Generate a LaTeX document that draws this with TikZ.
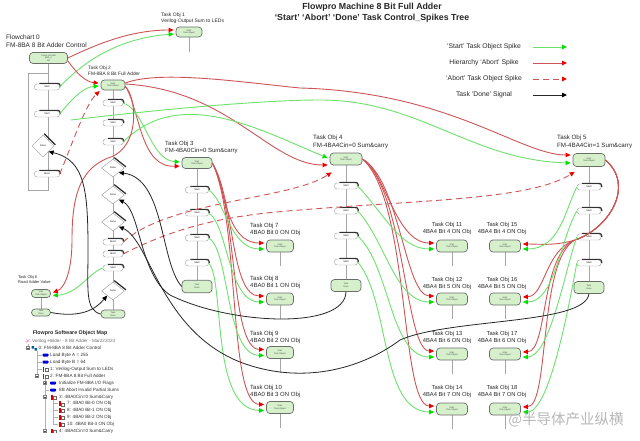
\documentclass[tikz,border=0pt]{standalone}
\usepackage{fontspec}
\setmainfont{Liberation Sans}
\newfontfamily\cjkfont{Noto Sans CJK SC}
\usetikzlibrary{arrows.meta,shapes.geometric}
\definecolor{nodegreen}{RGB}{214,240,204}
\definecolor{nodeedge}{RGB}{105,110,105}
\definecolor{lgreen}{RGB}{110,225,110}
\definecolor{agreen}{RGB}{0,225,0}
\definecolor{lred}{RGB}{205,85,85}
\definecolor{ared}{RGB}{240,0,0}
\definecolor{txt}{RGB}{40,40,40}
\pgfdeclarelayer{bg}
\pgfsetlayers{bg,main}
\tikzset{
 tobj/.style={draw=nodeedge, fill=nodegreen, rounded corners=3.5pt, line width=0.7pt, inner sep=0pt,
   minimum width=30pt, minimum height=11pt, align=center, font=\fontsize{2.2}{2.6}\selectfont, text=black!70},
 sbox/.style={draw=black!40, fill=white, rounded corners=2.5pt, line width=0.4pt, inner sep=0pt,
   minimum height=6pt, font=\fontsize{2.4}{2.8}\selectfont},
 dmd/.style={diamond, draw=black!40, fill=white, line width=0.4pt, inner sep=0pt, font=\fontsize{2.4}{2.8}\selectfont},
 lab/.style={anchor=north west, inner sep=0pt, align=left, text=txt, font=\fontsize{6}{7}\selectfont},
 labc/.style={anchor=north, inner sep=0pt, align=center, text=txt, font=\fontsize{5.8}{7}\selectfont},
 leg/.style={inner sep=0pt, text=txt, font=\fontsize{6.8}{8}\selectfont},
 gA/.style={draw=lgreen, line width=0.9pt, -{Triangle[length=5pt,width=4.5pt,color=agreen]}},
 rA/.style={draw=lred, line width=0.9pt, -{Triangle[length=5pt,width=4.5pt,color=ared]}},
 rD/.style={rA, dash pattern=on 6pt off 4pt},
 bA/.style={draw=black!85, line width=0.8pt, -{Triangle[length=5pt,width=4.5pt,color=black]}},
 col/.style={draw=black!35, line width=0.5pt},
 tr/.style={anchor=west, inner sep=0pt, font=\fontsize{4.6}{5}\selectfont, text=black!80},
 trl/.style={draw=black!30, line width=0.4pt},
}
% start/abort box with dark raised edge: [width]{name}{x}{y}{text}
\newcommand\SB[5][23]{%
  \node[sbox, minimum width=#1pt] (#2) at (#3,#4) {#5};
  \draw[line width=1.1pt, black!80, rounded corners=2.5pt]
    ([xshift=5pt,yshift=0.5pt]#2.north west) -- ([xshift=0.5pt,yshift=0.5pt]#2.north east) -- ([xshift=0.5pt]#2.east);}
% decision diamond: {name}{x}{y}{w}{h}
\newcommand\DM[5]{%
  \node[dmd, minimum width=#4pt, minimum height=#5pt] (#1) at (#2,#3) {Done};
  \draw[line width=1.2pt, black!85] ([xshift=1.2pt,yshift=1.2pt]#1.north) -- ([xshift=1.2pt,yshift=1.2pt]#1.east);}
\newcommand\BIcon[2]{\fill[blue!85!black, rounded corners=0.8pt] (#1,#2-1.5) rectangle ++(6,3);}
\newcommand\RIcon[2]{\fill[red!85!black] (#1,#2-2.5) rectangle ++(1.6,5);
  \draw[black!60, line width=0.3pt, fill=white] (#1+2.3,#2-0.5) rectangle ++(3,2.8);}
\newcommand\MBox[2]{\draw[black!50, line width=0.3pt, fill=white] (#1-1.5,#2-1.5) rectangle ++(3,3);
  \draw[black!70, line width=0.3pt] (#1-0.9,#2) -- (#1+0.9,#2);}
\newcommand\PBox[2]{\MBox{#1}{#2}\draw[black!70, line width=0.3pt] (#1,#2-0.9) -- (#1,#2+0.9);}

\begin{document}
\begin{tikzpicture}[x=1pt,y=-1pt]
\useasboundingbox (0,0) rectangle (640,440);
\begin{pgfonlayer}{bg}\fill[white] (0,0) rectangle (640,440);\end{pgfonlayer}

% ---------- title and legend ----------
\node[font=\bfseries\fontsize{8.8}{11}\selectfont, align=center, inner sep=0pt, text=black!85] (title) at (372,12.5)
  {Flowpro Machine 8 Bit Full Adder\\‘Start’ ‘Abort’ ‘Done’ Task Control\_Spikes Tree};
\node[leg] (lg1) at (484,47) {‘Start’ Task Object Spike};
\node[leg] (lg2) at (484,63) {Hierarchy ‘Abort’ Spike};
\node[leg] (lg3) at (484,79) {‘Abort’ Task Object Spike};
\node[leg] (lg4) at (484,95) {Task ‘Done’ Signal};
\coordinate (g1a) at (533,47); \coordinate (g1b) at (567,47);
\coordinate (g2a) at (533,63); \coordinate (g2b) at (567,63);
\coordinate (g3a) at (533,79); \coordinate (g3b) at (567,79);
\coordinate (g4a) at (533,95); \coordinate (g4b) at (567,95);
\draw[gA] (g1a) -- (g1b);
\draw[rA] (g2a) -- (g2b);
\draw[rD] (g3a) -- (g3b);
\draw[bA] (g4a) -- (g4b);

% ---------- labels ----------
\node[lab, font=\fontsize{6.5}{7.6}\selectfont] (l0) at (6,35) {Flowchart 0\\FM-8BA 8 Bit Adder Control};
\node[lab, font=\fontsize{5}{6}\selectfont] (l1) at (161,13) {Task Obj 1\\Verilog-Output Sum to LEDs};
\node[lab, font=\fontsize{4.8}{5.6}\selectfont] (l2) at (88,66.3) {Task Obj 2\\FM-8BA 8 Bit Full Adder};
\node[lab] (l3) at (165,140.8) {Task Obj 3\\FM-4BA0Cin=0 Sum\&carry};
\node[lab, font=\fontsize{6.2}{7.8}\selectfont] (l4) at (313,134.7) {Task Obj 4\\FM-4BA4Cin=0 Sum\&carry};
\node[lab, font=\fontsize{6.2}{7.8}\selectfont] (l5) at (557,134.7) {Task Obj 5\\FM-4BA4Cin=1 Sum\&carry};
\node[lab, font=\fontsize{4}{5.5}\selectfont] (l6) at (18,275) {Task Obj 6\\Road Adder Value};
\node[lab] (l7) at (250,222.8) {Task Obj 7\\4BA0 Bit 0 ON Obj};
\node[lab] (l8) at (250,276.3) {Task Obj 8\\4BA0 Bit 1 ON Obj};
\node[lab] (l9) at (250,330.8) {Task Obj 9\\4BA0 Bit 2 ON Obj};
\node[lab] (l10) at (250,384.8) {Task Obj 10\\4BA0 Bit 3 ON Obj};
\node[labc] (l11) at (447,221.8) {Task Obj 11\\4BA4 Bit 4 ON Obj};
\node[labc] (l12) at (447,276.8) {Task Obj 12\\4BA4 Bit 5 ON Obj};
\node[labc] (l13) at (447,330.8) {Task Obj 13\\4BA4 Bit 6 ON Obj};
\node[labc] (l14) at (447,384.8) {Task Obj 14\\4BA4 Bit 7 ON Obj};
\node[labc] (l15) at (502,221.8) {Task Obj 15\\4BA4 Bit 4 ON Obj};
\node[labc] (l16) at (502,276.8) {Task Obj 16\\4BA4 Bit 5 ON Obj};
\node[labc] (l17) at (502,330.8) {Task Obj 17\\4BA4 Bit 6 ON Obj};
\node[labc] (l18) at (502,384.8) {Task Obj 18\\4BA4 Bit 7 ON Obj};

% ---------- task object nodes ----------
\node[tobj, minimum width=38pt] (fc0) at (48.5,58) {Power On Add\\8BA\_0\\1B};
\node[tobj, minimum width=26pt, minimum height=10pt] (t1) at (189,32) {Start\\Task Object};
\node[tobj, minimum width=24pt, minimum height=10pt] (t2) at (113,85) {Start\\Task Object};
\node[tobj] (t3) at (197,163) {Start\\Task Object};
\node[tobj, minimum width=32pt, minimum height=12pt] (t4) at (346,159) {Start\\Task Object};
\node[tobj, minimum width=32pt, minimum height=13pt] (t5) at (589,160) {Start\\Task Object};
\node[tobj, minimum width=19pt, minimum height=8pt] (t6) at (41,293.5) {Start\\Task Object};
\foreach \n/\yy in {7/246,8/299,9/352.5,10/407.5}
  \node[tobj, minimum width=27pt, minimum height=12pt] (t\n) at (280,\yy) {Start\\Task Object};
\foreach \n/\yy in {11/246,12/299,13/354,14/409}
  \node[tobj, minimum width=31pt, minimum height=12pt] (t\n) at (452,\yy) {Start\\Task Object};
\foreach \n/\yy in {15/246,16/299,17/354,18/409}
  \node[tobj, minimum width=31pt, minimum height=12pt] (t\n) at (505,\yy) {Start\\Task Object};
% done boxes
\node[tobj, minimum width=24pt, minimum height=8pt] (t2d) at (113,314) {Task\\Done};
\node[tobj, minimum height=12.5pt] (t3d) at (197,286.5) {Task\\Done};
\node[tobj, minimum height=12pt] (t4d) at (346,285.5) {Task\\Done};
\node[tobj, minimum height=12pt] (t5d) at (589,287.5) {Task\\Done};
\node[tobj, minimum width=19pt, minimum height=7pt] (t6d) at (41,312.5) {Task\\Done};

% ---------- flowchart columns ----------
\SB[25]{fs1}{47}{87}{Start}
\SB[25]{fs2}{47}{114}{Start}
\DM{fd}{43}{146}{22}{22}
\SB[25]{fab}{47}{174}{Abort}

\SB[20]{s21}{113}{103}{Start}
\SB[20]{s22}{113}{123}{Start}
\SB[20]{s23}{113}{142}{Start}
\DM{d1}{113}{168}{23}{18}
\DM{d2}{113}{195}{23}{18}
\DM{d3}{113}{222}{23}{18}
\SB[20]{sa1}{113}{242}{Abort}
\SB[20]{sa2}{113}{254}{Abort}
\SB[20]{s27}{113}{268}{Start}
\DM{d4}{113}{291}{23}{18}

\SB{s31}{197}{190}{Start}
\SB{s32}{197}{213}{Start}
\SB{s33}{197}{238}{Start}
\SB{s34}{197}{263}{Start}
\SB{s41}{346}{186}{Start}
\SB{s42}{346}{211}{Start}
\SB{s43}{346}{236}{Start}
\SB{s44}{346}{262}{Start}
\SB[24]{s51}{589}{187}{Start}
\SB[24]{s52}{589}{211}{Start}
\SB[24]{s53}{589}{237}{Start}
\SB[24]{s54}{589}{263}{Start}

\begin{pgfonlayer}{bg}
\coordinate (fcb) at (48.5,190);
\coordinate (fcc) at (28,190);
\coordinate (fcd) at (28,73);
\coordinate (fce) at (48.5,73);
\draw[col] (fc0.south) -- (fcb) -- (fcc) -- (fcd) -- (fce);
\draw[col] (t1.south) -- ++(0,15);
\draw[col] (t2.south) -- (t2d.north);
\draw[col] (t3.south) -- (t3d.north);
\draw[col] (t4.south) -- (t4d.north);
\draw[col] (t5.south) -- (t5d.north);
\draw[col] (t6.south) -- (t6d.north);
\foreach \n in {7,...,18} \draw[col] (t\n.south) -- ++(0,14);
\end{pgfonlayer}

% ---------- start / abort spikes ----------
\draw[rA] (fc0.east) .. controls (95,45) and (130,30) .. ([xshift=-2pt,yshift=2pt]t1.west);
\draw[gA] (fs1.east) .. controls (85,60) and (120,38) .. ([xshift=-2pt,yshift=-2pt]t1.west);
\draw[rA] ([yshift=-3pt]fc0.east) .. controls (76,72) and (85,82) .. ([xshift=-2pt,yshift=2pt]t2.west);
\draw[gA] (fs2.east) .. controls (75,95) and (85,87) .. ([xshift=-2pt,yshift=-1pt]t2.west);
\draw[rD] (fab.east) .. controls (72,145) and (85,105) .. ([xshift=-1pt,yshift=-6pt]t2.west);

\draw[rA] ([yshift=-1pt]t2.east) .. controls (140,110) and (140,168) .. ([xshift=-2pt,yshift=-3pt]t3.west);
\draw[gA] (s21.east) .. controls (145,110) and (150,160) .. ([xshift=-2pt,yshift=1pt]t3.west);
\draw[rA] ([yshift=1pt]t2.east) .. controls (230,90) and (270,165) .. ([xshift=-2pt,yshift=-6pt]t4.west);
\draw[gA] (s23.east) .. controls (180,85) and (260,130) .. ([xshift=-2pt,yshift=1pt]t4.west);
\draw[rA] ([yshift=2pt]t2.east) .. controls (160,70) and (240,82) .. (300,88)
   .. controls (450,92) and (520,155) .. ([xshift=-2pt,yshift=5pt]t5.west);
\coordinate (gfree) at (71,120);
\draw[gA] (gfree) .. controls (120,114) and (250,100) .. (320,100)
   .. controls (420,100) and (470,160) .. ([xshift=-2pt,yshift=-3pt]t5.west);
\draw[rD] (sa1.east) .. controls (170,200) and (290,200) .. ([shift={(2,7)}]t4.south west);
\draw[rD] (sa2.east) .. controls (180,225) and (230,215) .. (300,210)
   .. controls (420,200) and (530,200) .. ([shift={(2,5)}]t5.south west);
\draw[rA] ([yshift=-2pt]t2.east) .. controls (136,95) and (142,148) .. (108,158)
   .. controls (78,170) and (72,200) .. (72,240) .. controls (72,270) and (65,288) .. ([xshift=2pt,yshift=1pt]t6.east);
\draw[gA] (s27.west) .. controls (90,272) and (78,294) .. ([xshift=2pt,yshift=-2pt]t6.east);

% Task Obj 3 children
\draw[rA] (t3.east) .. controls (225,185) and (225,243) .. ([xshift=-2pt,yshift=3pt]t7.west);
\draw[rA] (t3.east) .. controls (235,200) and (230,296) .. ([xshift=-2pt,yshift=3pt]t8.west);
\draw[rA] (t3.east) .. controls (238,210) and (230,349) .. ([xshift=-2pt,yshift=3pt]t9.west);
\draw[rA] (t3.east) .. controls (240,220) and (228,404) .. ([xshift=-2pt,yshift=3pt]t10.west);
\draw[gA] (s31.east) .. controls (225,200) and (230,249) .. ([xshift=-2pt,yshift=-3pt]t7.west);
\draw[gA] (s32.east) .. controls (228,225) and (228,302) .. ([xshift=-2pt,yshift=-3pt]t8.west);
\draw[gA] (s33.east) .. controls (230,250) and (225,355) .. ([xshift=-2pt,yshift=-3pt]t9.west);
\draw[gA] (s34.east) .. controls (225,280) and (210,410) .. ([xshift=-2pt,yshift=-3pt]t10.west);

% Task Obj 4 children
\draw[rA] (t4.east) .. controls (385,170) and (395,243) .. ([xshift=-2pt,yshift=3pt]t11.west);
\draw[rA] (t4.east) .. controls (400,180) and (405,296) .. ([xshift=-2pt,yshift=3pt]t12.west);
\draw[rA] (t4.east) .. controls (405,190) and (405,351) .. ([xshift=-2pt,yshift=3pt]t13.west);
\draw[rA] (t4.east) .. controls (410,200) and (400,406) .. ([xshift=-2pt,yshift=3pt]t14.west);
\draw[gA] (s41.east) .. controls (385,215) and (400,249) .. ([xshift=-2pt,yshift=-3pt]t11.west);
\draw[gA] (s42.east) .. controls (385,240) and (395,302) .. ([xshift=-2pt,yshift=-3pt]t12.west);
\draw[gA] (s43.east) .. controls (390,265) and (390,357) .. ([xshift=-2pt,yshift=-3pt]t13.west);
\draw[gA] (s44.east) .. controls (390,300) and (380,412) .. ([xshift=-2pt,yshift=-3pt]t14.west);

% Task Obj 5 children
\draw[rA] (t5.east) .. controls (635,185) and (610,228) .. (575,240) .. controls (555,246) and (540,244) .. ([xshift=2pt,yshift=2pt]t15.east);
\draw[rA] (t5.east) .. controls (635,185) and (610,228) .. (575,240) .. controls (545,250) and (545,296) .. ([xshift=2pt,yshift=2pt]t16.east);
\draw[rA] (t5.east) .. controls (635,185) and (610,228) .. (575,240) .. controls (540,255) and (548,351) .. ([xshift=2pt,yshift=2pt]t17.east);
\draw[rA] (t5.east) .. controls (635,185) and (610,228) .. (575,240) .. controls (538,260) and (550,406) .. ([xshift=2pt,yshift=2pt]t18.east);
\draw[gA] (s51.west) .. controls (565,210) and (560,249) .. ([xshift=2pt,yshift=-3pt]t15.east);
\draw[gA] (s52.west) .. controls (560,240) and (555,302) .. ([xshift=2pt,yshift=-3pt]t16.east);
\draw[gA] (s53.west) .. controls (565,270) and (550,357) .. ([xshift=2pt,yshift=-3pt]t17.east);
\draw[gA] (s54.west) .. controls (570,300) and (550,412) .. ([xshift=2pt,yshift=-3pt]t18.east);

% ---------- done signals ----------
\draw[bA] (t3d.west) .. controls (160,262) and (165,178) .. (d1.south east);
\draw[bA] (t4d.south) .. controls (345,330) and (230,325) .. (170,295) .. controls (140,275) and (140,210) .. (d2.south east);
\draw[bA] (t5d.south) .. controls (585,325) and (450,318) .. (400,340) .. controls (360,370) and (300,385) .. (240,362)
   .. controls (160,330) and (150,240) .. (d3.south east);
\draw[bA] (t2d.west) .. controls (85,310) and (88,290) .. (88,250) .. controls (88,190) and (85,160) .. (fd.south east);
\draw[bA] (t6d.east) .. controls (80,318) and (95,310) .. (d4.south west);

% ---------- software object map ----------
\begin{scope}
\clip (0,320) rectangle (200,432.5);
\node[font=\bfseries\fontsize{5.3}{6}\selectfont, text=black!85, inner sep=0pt] (omt) at (70,333) {Flowpro Software Object Map};
\draw[trl] (28,344) -- (28,346.5);
\draw[trl] (37,351) -- (37,374.5);
\draw[trl] (45,379) -- (45,440);
\draw[trl] (53,400) -- (53,424);
\foreach \yy in {355,362,369} \draw[trl] (37,\yy) -- (42,\yy);
\draw[trl] (45,390) -- (49,390);
\foreach \yy in {403.5,410,417,424} \draw[trl] (53,\yy) -- (58,\yy);
\draw[magenta!45, line width=0.5pt] (25,341) -- (31,341) (26.5,339) -- (28,341) -- (26.5,343) (29.5,339) -- (28,341);
\node[tr, text=black!55] (r1) at (32,341) {Verilog Holder - 8 Bit Adder - Mar222024};
\MBox{28}{348}
\fill[teal!70!blue] (31.5,346) rectangle ++(2.5,2.5) (34.5,348) rectangle ++(2.5,2.5);
\node[tr] (r2) at (38.5,348) {0: FM-8BA 8 Bit Adder Control};
\BIcon{42.5}{355}
\node[tr] (r3) at (50,355) {Load Byte A = 255};
\BIcon{42.5}{362}
\node[tr] (r4) at (50,362) {Load Byte B = 64};
\RIcon{42.5}{369}
\node[tr] (r5) at (50,369) {1: Verilog-Output Sum to LEDs};
\MBox{37}{376}
\RIcon{42.5}{376}
\node[tr] (r6) at (50,376) {2: FM-8BA 8 Bit Full Adder};
\PBox{45}{383}
\BIcon{50}{383}
\node[tr] (r7) at (59,383) {Initialize FM-8BA I/O Flags};
\BIcon{50}{390}
\node[tr] (r8) at (59,390) {8B Abort Invalid Partial Sums};
\MBox{45}{397}
\RIcon{51}{397}
\node[tr] (r9) at (59,397) {3: 4BA0Cin=0 Sum\&Carry};
\RIcon{59}{403.5}
\node[tr] (r10) at (67,403.5) {7: 4BA0 Bit-0 ON Obj};
\RIcon{59}{410}
\node[tr] (r11) at (67,410) {8: 4BA0 Bit-1 ON Obj};
\RIcon{59}{417}
\node[tr] (r12) at (67,417) {9: 4BA0 Bit-2 ON Obj};
\RIcon{59}{424}
\node[tr] (r13) at (67,424) {10: 4BA0 Bit-3 ON Obj};
\MBox{45}{431}
\RIcon{51}{431}
\node[tr] (r14) at (59,431) {4: 4BA4Cin=0 Sum\&Carry};
\end{scope}

% ---------- watermark ----------
\node[font=\cjkfont\fontsize{14.5}{16}\selectfont, text=black!28, inner sep=0pt] (wm) at (566,420) {@半导体产业纵横};
\end{tikzpicture}
\end{document}
